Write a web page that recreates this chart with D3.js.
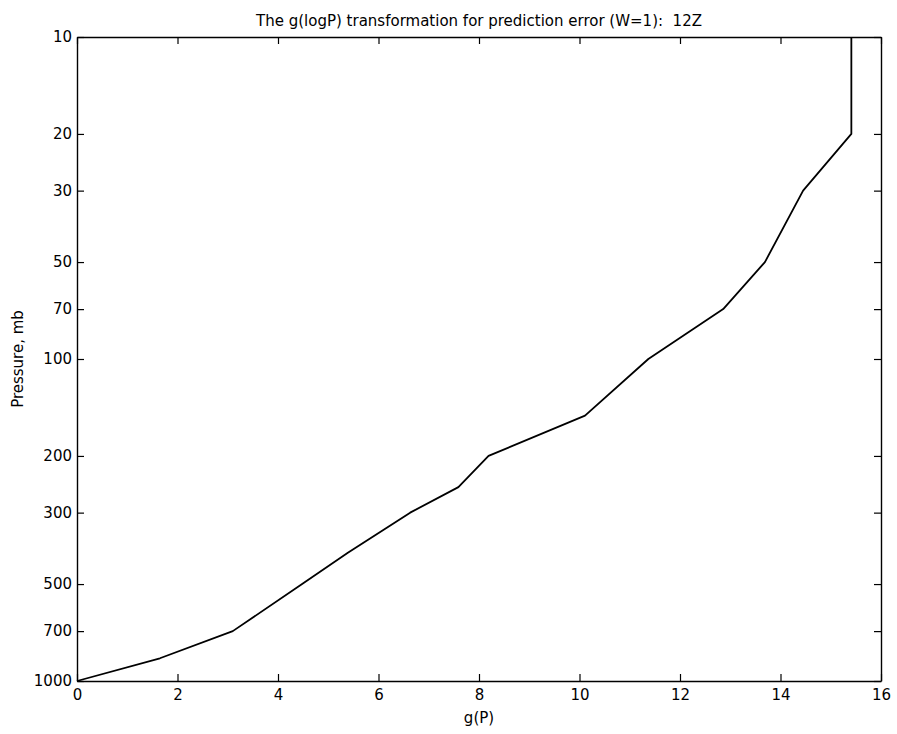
<!DOCTYPE html>
<html>
<head>
<meta charset="utf-8">
<script src="https://cdn.jsdelivr.net/npm/d3@7/dist/d3.min.js"></script>
<style>
  html, body { margin: 0; padding: 0; background: #fff; }
  svg { display: block; }
  text { font-family: "DejaVu Sans", "Liberation Sans", Arial, sans-serif; fill: #000; white-space: pre; }
</style>
</head>
<body>
<svg id="chart" width="897" height="734"></svg>
<script>
// ---- data ----
const pressureLevels = [1000, 850, 700, 500, 400, 300, 250, 200, 150, 100, 70, 50, 30, 20, 10];
const gValues        = [0, 1.65, 3.10, 4.48, 5.39, 6.63, 7.59, 8.19, 10.11, 11.37, 12.86, 13.69, 14.45, 15.41, 15.41];
const xTicks = [0, 2, 4, 6, 8, 10, 12, 14, 16];
const yTicks = [10, 20, 30, 50, 70, 100, 200, 300, 500, 700, 1000];
const titleText = "The g(logP) transformation for prediction error (W=1):  12Z";
const xLabel = "g(P)";
const yLabel = "Pressure, mb";

// ---- layout ----
const mLeft = 77, mRight = 881, mTop = 37, mBottom = 681;
const tickLen = 7;
const fontFam = '"DejaVu Sans", "Liberation Sans", Arial, sans-serif';
const fs = 15;

const svg = d3.select("#chart");
const x = d3.scaleLinear().domain([0, 16]).range([mLeft, mRight]);
const y = d3.scaleLog().domain([10, 1000]).range([mTop, mBottom]);

// Axes (MATLAB-like box with inward ticks)
const gBottom = svg.append("g").attr("transform", `translate(0,${mBottom})`)
  .call(d3.axisBottom(x).tickValues(xTicks).tickFormat(d3.format("d")).tickSizeInner(-tickLen).tickSizeOuter(0).tickPadding(8));
const gTop = svg.append("g").attr("transform", `translate(0,${mTop})`)
  .call(d3.axisTop(x).tickValues(xTicks).tickFormat("").tickSizeInner(-tickLen).tickSizeOuter(0));
const gLeft = svg.append("g").attr("transform", `translate(${mLeft},0)`)
  .call(d3.axisLeft(y).tickValues(yTicks).tickFormat(d3.format("d")).tickSizeInner(-tickLen).tickSizeOuter(0).tickPadding(5));
const gRight = svg.append("g").attr("transform", `translate(${mRight},0)`)
  .call(d3.axisRight(y).tickValues(yTicks).tickFormat("").tickSizeInner(-tickLen).tickSizeOuter(0));

[gBottom, gTop, gLeft, gRight].forEach(g => {
  g.selectAll(".domain").attr("stroke", "#000").attr("stroke-width", 1.4);
  g.selectAll(".tick line").attr("stroke", "#000").attr("stroke-width", 1.2);
  g.selectAll(".tick text").attr("font-size", fs).attr("font-family", fontFam).attr("fill", "#000");
});

// Data line
const line = d3.line().x((d, i) => x(gValues[i])).y(d => y(d));
svg.append("path")
  .datum(pressureLevels)
  .attr("d", line)
  .attr("fill", "none")
  .attr("stroke", "#000")
  .attr("stroke-width", 1.8)
  .attr("stroke-linejoin", "round");

// Title and labels
svg.append("text")
  .attr("x", (mLeft + mRight) / 2).attr("y", 26)
  .attr("text-anchor", "middle").attr("font-size", fs).attr("font-family", fontFam)
  .text(titleText);

svg.append("text")
  .attr("x", (mLeft + mRight) / 2).attr("y", 723)
  .attr("text-anchor", "middle").attr("font-size", fs).attr("font-family", fontFam)
  .text(xLabel);

svg.append("text")
  .attr("transform", `translate(23,${(mTop + mBottom) / 2}) rotate(-90)`)
  .attr("text-anchor", "middle").attr("font-size", fs).attr("font-family", fontFam)
  .text(yLabel);
</script>
</body>
</html>
